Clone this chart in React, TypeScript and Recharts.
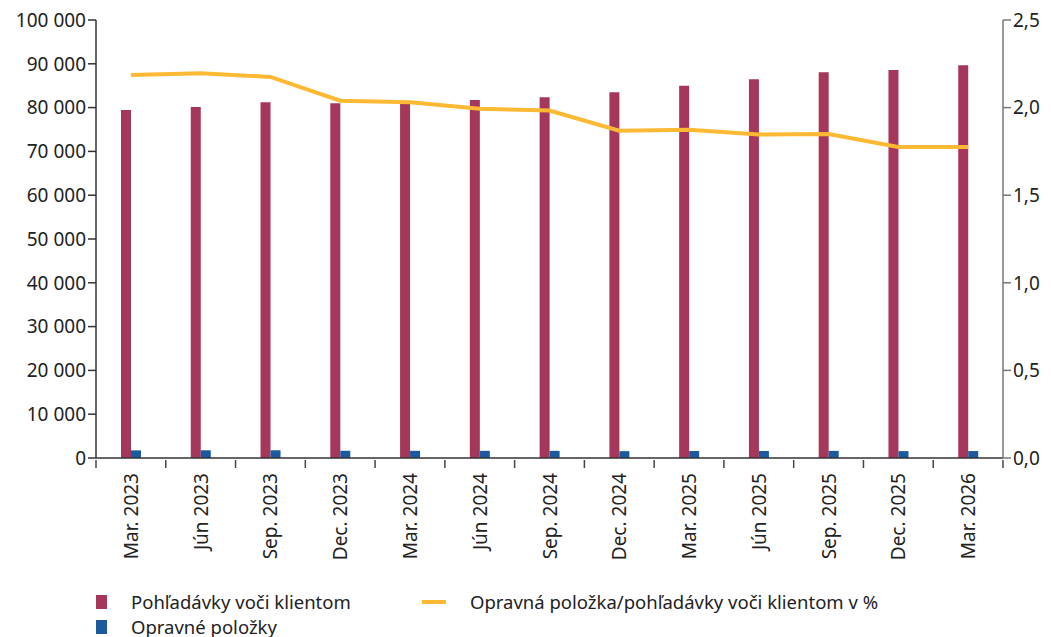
import { ComposedChart, Bar, Line, XAxis, YAxis } from "recharts";

const categories = [
  "Mar. 2023", "Jún 2023", "Sep. 2023", "Dec. 2023", "Mar. 2024", "Jún 2024", "Sep. 2024",
  "Dec. 2024", "Mar. 2025", "Jún 2025", "Sep. 2025", "Dec. 2025", "Mar. 2026",
];
const receivables = [79450, 80140, 81210, 80980, 80820, 81740, 82350, 83490, 85000, 86460, 88060, 88580, 89660];
const provisions = [1737, 1760, 1766, 1651, 1641, 1630, 1633, 1560, 1593, 1597, 1628, 1572, 1591];
const ratio = [2.186, 2.196, 2.175, 2.039, 2.03, 1.994, 1.983, 1.868, 1.874, 1.847, 1.849, 1.775, 1.775];
const leftTicks = [0, 10000, 20000, 30000, 40000, 50000, 60000, 70000, 80000, 90000, 100000];
const rightTicks = [0, 0.5, 1, 1.5, 2, 2.5];

const data = categories.map((c, i) => ({ c, r: receivables[i], p: provisions[i], q: ratio[i] }));

const RED = "#a5375a";
const BLUE = "#1b5a9e";
const ORANGE = "#fdb933";
const TEXT = "#222";
const FONT = "'Noto Sans', sans-serif";

const W = 1051;
const LEFT = 96;
const RIGHT = 1003;
const BAND = (RIGHT - LEFT) / categories.length;

const fmtLeft = (v: number) => v.toLocaleString("en-US").replace(/,/g, " ");
const fmtRight = (v: number) => v.toFixed(1).replace(".", ",");

function XTick(props: any) {
  const { x, y, payload, index } = props;
  const last = index === categories.length - 1;
  return (
    <g>
      <line x1={x - BAND / 2} x2={x - BAND / 2} y1={y - 8} y2={y} stroke="#444" strokeWidth={1.5} />
      {last && <line x1={x + BAND / 2} x2={x + BAND / 2} y1={y - 8} y2={y} stroke="#444" strokeWidth={1.5} />}
      <text
        x={0}
        y={0}
        transform={`translate(${x + 7},${y + 5}) rotate(-90)`}
        textAnchor="end"
        fill={TEXT}
        fontSize={19}
        fontFamily={FONT}
      >
        {payload.value}
      </text>
    </g>
  );
}

export default function App() {
  return (
    <div style={{ position: "absolute", left: 0, top: 0, width: W, height: 637, background: "#fff", fontFamily: FONT }}>
      <ComposedChart
        width={W}
        height={580}
        data={data}
        margin={{ top: 20, right: 0, left: 10, bottom: 0 }}
        barGap={0}
      >
        <XAxis
          dataKey="c"
          interval={0}
          height={122}
          tick={<XTick />}
          tickLine={false}
          axisLine={{ stroke: "#333", strokeWidth: 1.5 }}
          tickSize={8}
        />
        <YAxis
          yAxisId="l"
          width={86}
          domain={[0, 100000]}
          ticks={leftTicks}
          tickFormatter={fmtLeft}
          tick={{ fill: TEXT, fontSize: 19, fontFamily: FONT }}
          axisLine={{ stroke: "#333", strokeWidth: 1.5 }}
          tickLine={{ stroke: "#333", strokeWidth: 1.5 }}
          tickSize={8}
          interval={0}
        />
        <YAxis
          yAxisId="r"
          orientation="right"
          width={48}
          domain={[0, 2.5]}
          ticks={rightTicks}
          tickFormatter={fmtRight}
          tick={{ fill: TEXT, fontSize: 19, fontFamily: FONT }}
          axisLine={{ stroke: "#777", strokeWidth: 1.5 }}
          tickLine={{ stroke: "#777", strokeWidth: 1.5 }}
          tickSize={8}
          interval={0}
        />
        <Bar yAxisId="l" dataKey="r" fill={RED} barSize={10} isAnimationActive={false} />
        <Bar yAxisId="l" dataKey="p" fill={BLUE} barSize={10} isAnimationActive={false} />
        <Line
          yAxisId="r"
          dataKey="q"
          type="linear"
          stroke={ORANGE}
          strokeWidth={4}
          dot={false}
          activeDot={false}
          isAnimationActive={false}
        />
      </ComposedChart>
      <div style={{ position: "absolute", left: 96, top: 589, fontSize: 18.5, color: TEXT, lineHeight: "25px" }}>
        <div style={{ display: "flex", alignItems: "center", height: 25 }}>
          <span style={{ width: 11, height: 14, background: RED, display: "inline-block" }} />
          <span style={{ marginLeft: 24 }}>Pohľadávky voči klientom</span>
        </div>
        <div style={{ display: "flex", alignItems: "center", height: 25 }}>
          <span style={{ width: 11, height: 14, background: BLUE, display: "inline-block" }} />
          <span style={{ marginLeft: 24 }}>Opravné položky</span>
        </div>
      </div>
      <div style={{ position: "absolute", left: 422, top: 589, fontSize: 18.5, color: TEXT, display: "flex", alignItems: "center", height: 25 }}>
        <span style={{ width: 24, height: 4, background: ORANGE, display: "inline-block" }} />
        <span style={{ marginLeft: 24 }}>Opravná položka/pohľadávky voči klientom v %</span>
      </div>
    </div>
  );
}
